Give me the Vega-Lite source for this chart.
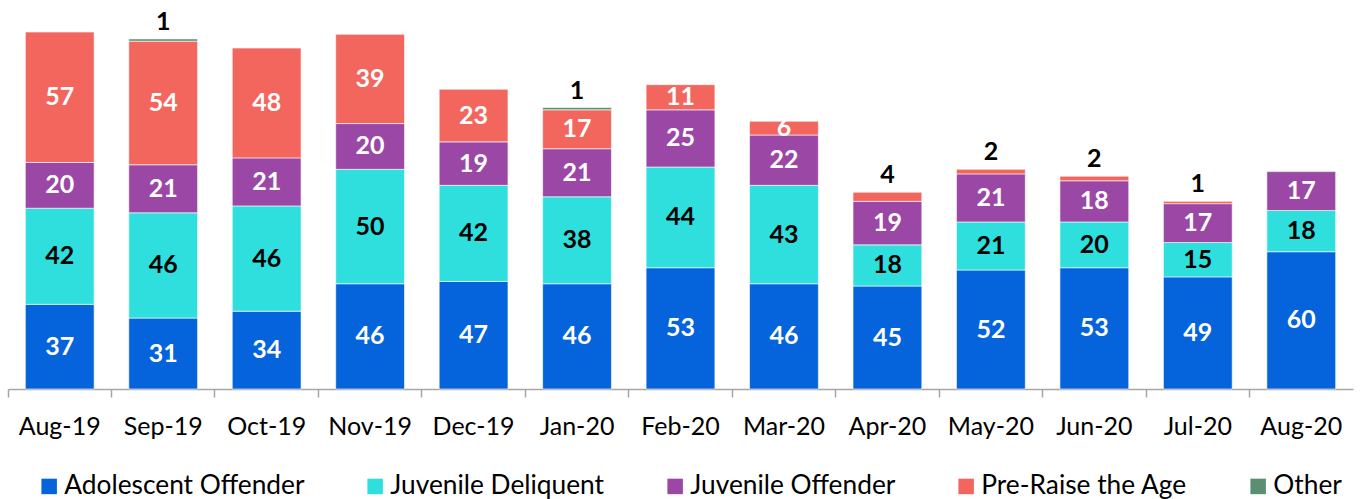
{
  "$schema": "https://vega.github.io/schema/vega-lite/v6.json",
  "width": 1345,
  "height": 389,
  "padding": {"left": 7, "top": 0, "right": 11, "bottom": 0},
  "config": {"view": {"stroke": null}, "font": "Lato"},
  "data": {"values": [
    {"month": "Aug-19", "category": "Adolescent Offender", "value": 37},
    {"month": "Aug-19", "category": "Juvenile Deliquent", "value": 42},
    {"month": "Aug-19", "category": "Juvenile Offender", "value": 20},
    {"month": "Aug-19", "category": "Pre-Raise the Age", "value": 57},
    {"month": "Sep-19", "category": "Adolescent Offender", "value": 31},
    {"month": "Sep-19", "category": "Juvenile Deliquent", "value": 46},
    {"month": "Sep-19", "category": "Juvenile Offender", "value": 21},
    {"month": "Sep-19", "category": "Pre-Raise the Age", "value": 54},
    {"month": "Sep-19", "category": "Other", "value": 1},
    {"month": "Oct-19", "category": "Adolescent Offender", "value": 34},
    {"month": "Oct-19", "category": "Juvenile Deliquent", "value": 46},
    {"month": "Oct-19", "category": "Juvenile Offender", "value": 21},
    {"month": "Oct-19", "category": "Pre-Raise the Age", "value": 48},
    {"month": "Nov-19", "category": "Adolescent Offender", "value": 46},
    {"month": "Nov-19", "category": "Juvenile Deliquent", "value": 50},
    {"month": "Nov-19", "category": "Juvenile Offender", "value": 20},
    {"month": "Nov-19", "category": "Pre-Raise the Age", "value": 39},
    {"month": "Dec-19", "category": "Adolescent Offender", "value": 47},
    {"month": "Dec-19", "category": "Juvenile Deliquent", "value": 42},
    {"month": "Dec-19", "category": "Juvenile Offender", "value": 19},
    {"month": "Dec-19", "category": "Pre-Raise the Age", "value": 23},
    {"month": "Jan-20", "category": "Adolescent Offender", "value": 46},
    {"month": "Jan-20", "category": "Juvenile Deliquent", "value": 38},
    {"month": "Jan-20", "category": "Juvenile Offender", "value": 21},
    {"month": "Jan-20", "category": "Pre-Raise the Age", "value": 17},
    {"month": "Jan-20", "category": "Other", "value": 1},
    {"month": "Feb-20", "category": "Adolescent Offender", "value": 53},
    {"month": "Feb-20", "category": "Juvenile Deliquent", "value": 44},
    {"month": "Feb-20", "category": "Juvenile Offender", "value": 25},
    {"month": "Feb-20", "category": "Pre-Raise the Age", "value": 11},
    {"month": "Mar-20", "category": "Adolescent Offender", "value": 46},
    {"month": "Mar-20", "category": "Juvenile Deliquent", "value": 43},
    {"month": "Mar-20", "category": "Juvenile Offender", "value": 22},
    {"month": "Mar-20", "category": "Pre-Raise the Age", "value": 6},
    {"month": "Apr-20", "category": "Adolescent Offender", "value": 45},
    {"month": "Apr-20", "category": "Juvenile Deliquent", "value": 18},
    {"month": "Apr-20", "category": "Juvenile Offender", "value": 19},
    {"month": "Apr-20", "category": "Pre-Raise the Age", "value": 4},
    {"month": "May-20", "category": "Adolescent Offender", "value": 52},
    {"month": "May-20", "category": "Juvenile Deliquent", "value": 21},
    {"month": "May-20", "category": "Juvenile Offender", "value": 21},
    {"month": "May-20", "category": "Pre-Raise the Age", "value": 2},
    {"month": "Jun-20", "category": "Adolescent Offender", "value": 53},
    {"month": "Jun-20", "category": "Juvenile Deliquent", "value": 20},
    {"month": "Jun-20", "category": "Juvenile Offender", "value": 18},
    {"month": "Jun-20", "category": "Pre-Raise the Age", "value": 2},
    {"month": "Jul-20", "category": "Adolescent Offender", "value": 49},
    {"month": "Jul-20", "category": "Juvenile Deliquent", "value": 15},
    {"month": "Jul-20", "category": "Juvenile Offender", "value": 17},
    {"month": "Jul-20", "category": "Pre-Raise the Age", "value": 1},
    {"month": "Aug-20", "category": "Adolescent Offender", "value": 60},
    {"month": "Aug-20", "category": "Juvenile Deliquent", "value": 18},
    {"month": "Aug-20", "category": "Juvenile Offender", "value": 17}
  ]},
  "transform": [
    {"calculate": "indexof(['Adolescent Offender','Juvenile Deliquent','Juvenile Offender','Pre-Raise the Age','Other'], datum.category)", "as": "ord"},
    {"stack": "value", "groupby": ["month"], "sort": [{"field": "ord", "order": "ascending"}], "as": ["y0", "y1"]},
    {"calculate": "(datum.y0 + datum.y1) / 2", "as": "ymid"}
  ],
  "encoding": {
    "x": {
      "field": "month", "type": "ordinal", "sort": null,
      "scale": {"paddingInner": 0, "paddingOuter": 0},
      "axis": {
        "title": null, "labelAngle": 0, "bandPosition": 0,
        "domainColor": "#a6a6a6", "tickColor": "#a6a6a6", "tickSize": 8, "domainWidth": 1.5, "tickWidth": 1.5,
        "labelFontSize": 25, "labelFontWeight": 400, "labelColor": "#000000", "labelPadding": 17, "labelFont": "Lato"
      }
    }
  },
  "layer": [
    {
      "mark": {"type": "bar", "width": {"band": 0.665}, "stroke": "white", "strokeWidth": 0.6},
      "encoding": {
        "y": {"field": "y1", "type": "quantitative", "scale": {"domain": [0, 170], "nice": false, "zero": true}, "axis": null},
        "y2": {"field": "y0"},
        "color": {
          "field": "category", "type": "nominal",
          "scale": {
            "domain": ["Adolescent Offender", "Juvenile Deliquent", "Juvenile Offender", "Pre-Raise the Age", "Other"],
            "range": ["#0563DB", "#2EDFDD", "#9B47A5", "#F2665E", "#5B8F73"]
          },
          "legend": {
            "title": null, "orient": "none", "legendX": 28, "legendY": 473, "direction": "horizontal",
            "symbolType": "square", "symbolSize": 240, "symbolStrokeWidth": 0, "symbolOpacity": 1,
            "labelFontSize": 26.3, "labelFontWeight": 400, "labelColor": "#000000", "labelFont": "Lato", "labelLimit": 600,
            "columnPadding": 57, "labelOffset": 2
          }
        }
      }
    },
    {
      "transform": [{"filter": "datum.value >= 5"}],
      "mark": {"type": "text", "fontSize": 25, "fontWeight": "bold", "font": "Lato", "baseline": "middle"},
      "encoding": {
        "y": {"field": "ymid", "type": "quantitative"},
        "text": {"field": "value", "type": "quantitative"},
        "color": {"condition": {"test": "datum.category === 'Juvenile Deliquent'", "value": "#000000"}, "value": "#ffffff"}
      }
    },
    {
      "transform": [{"filter": "datum.value < 5"}],
      "mark": {"type": "text", "fontSize": 25, "fontWeight": "bold", "font": "Lato", "baseline": "middle", "dy": -17, "color": "#000000"},
      "encoding": {
        "y": {"field": "y1", "type": "quantitative"},
        "text": {"field": "value", "type": "quantitative"}
      }
    }
  ]
}
